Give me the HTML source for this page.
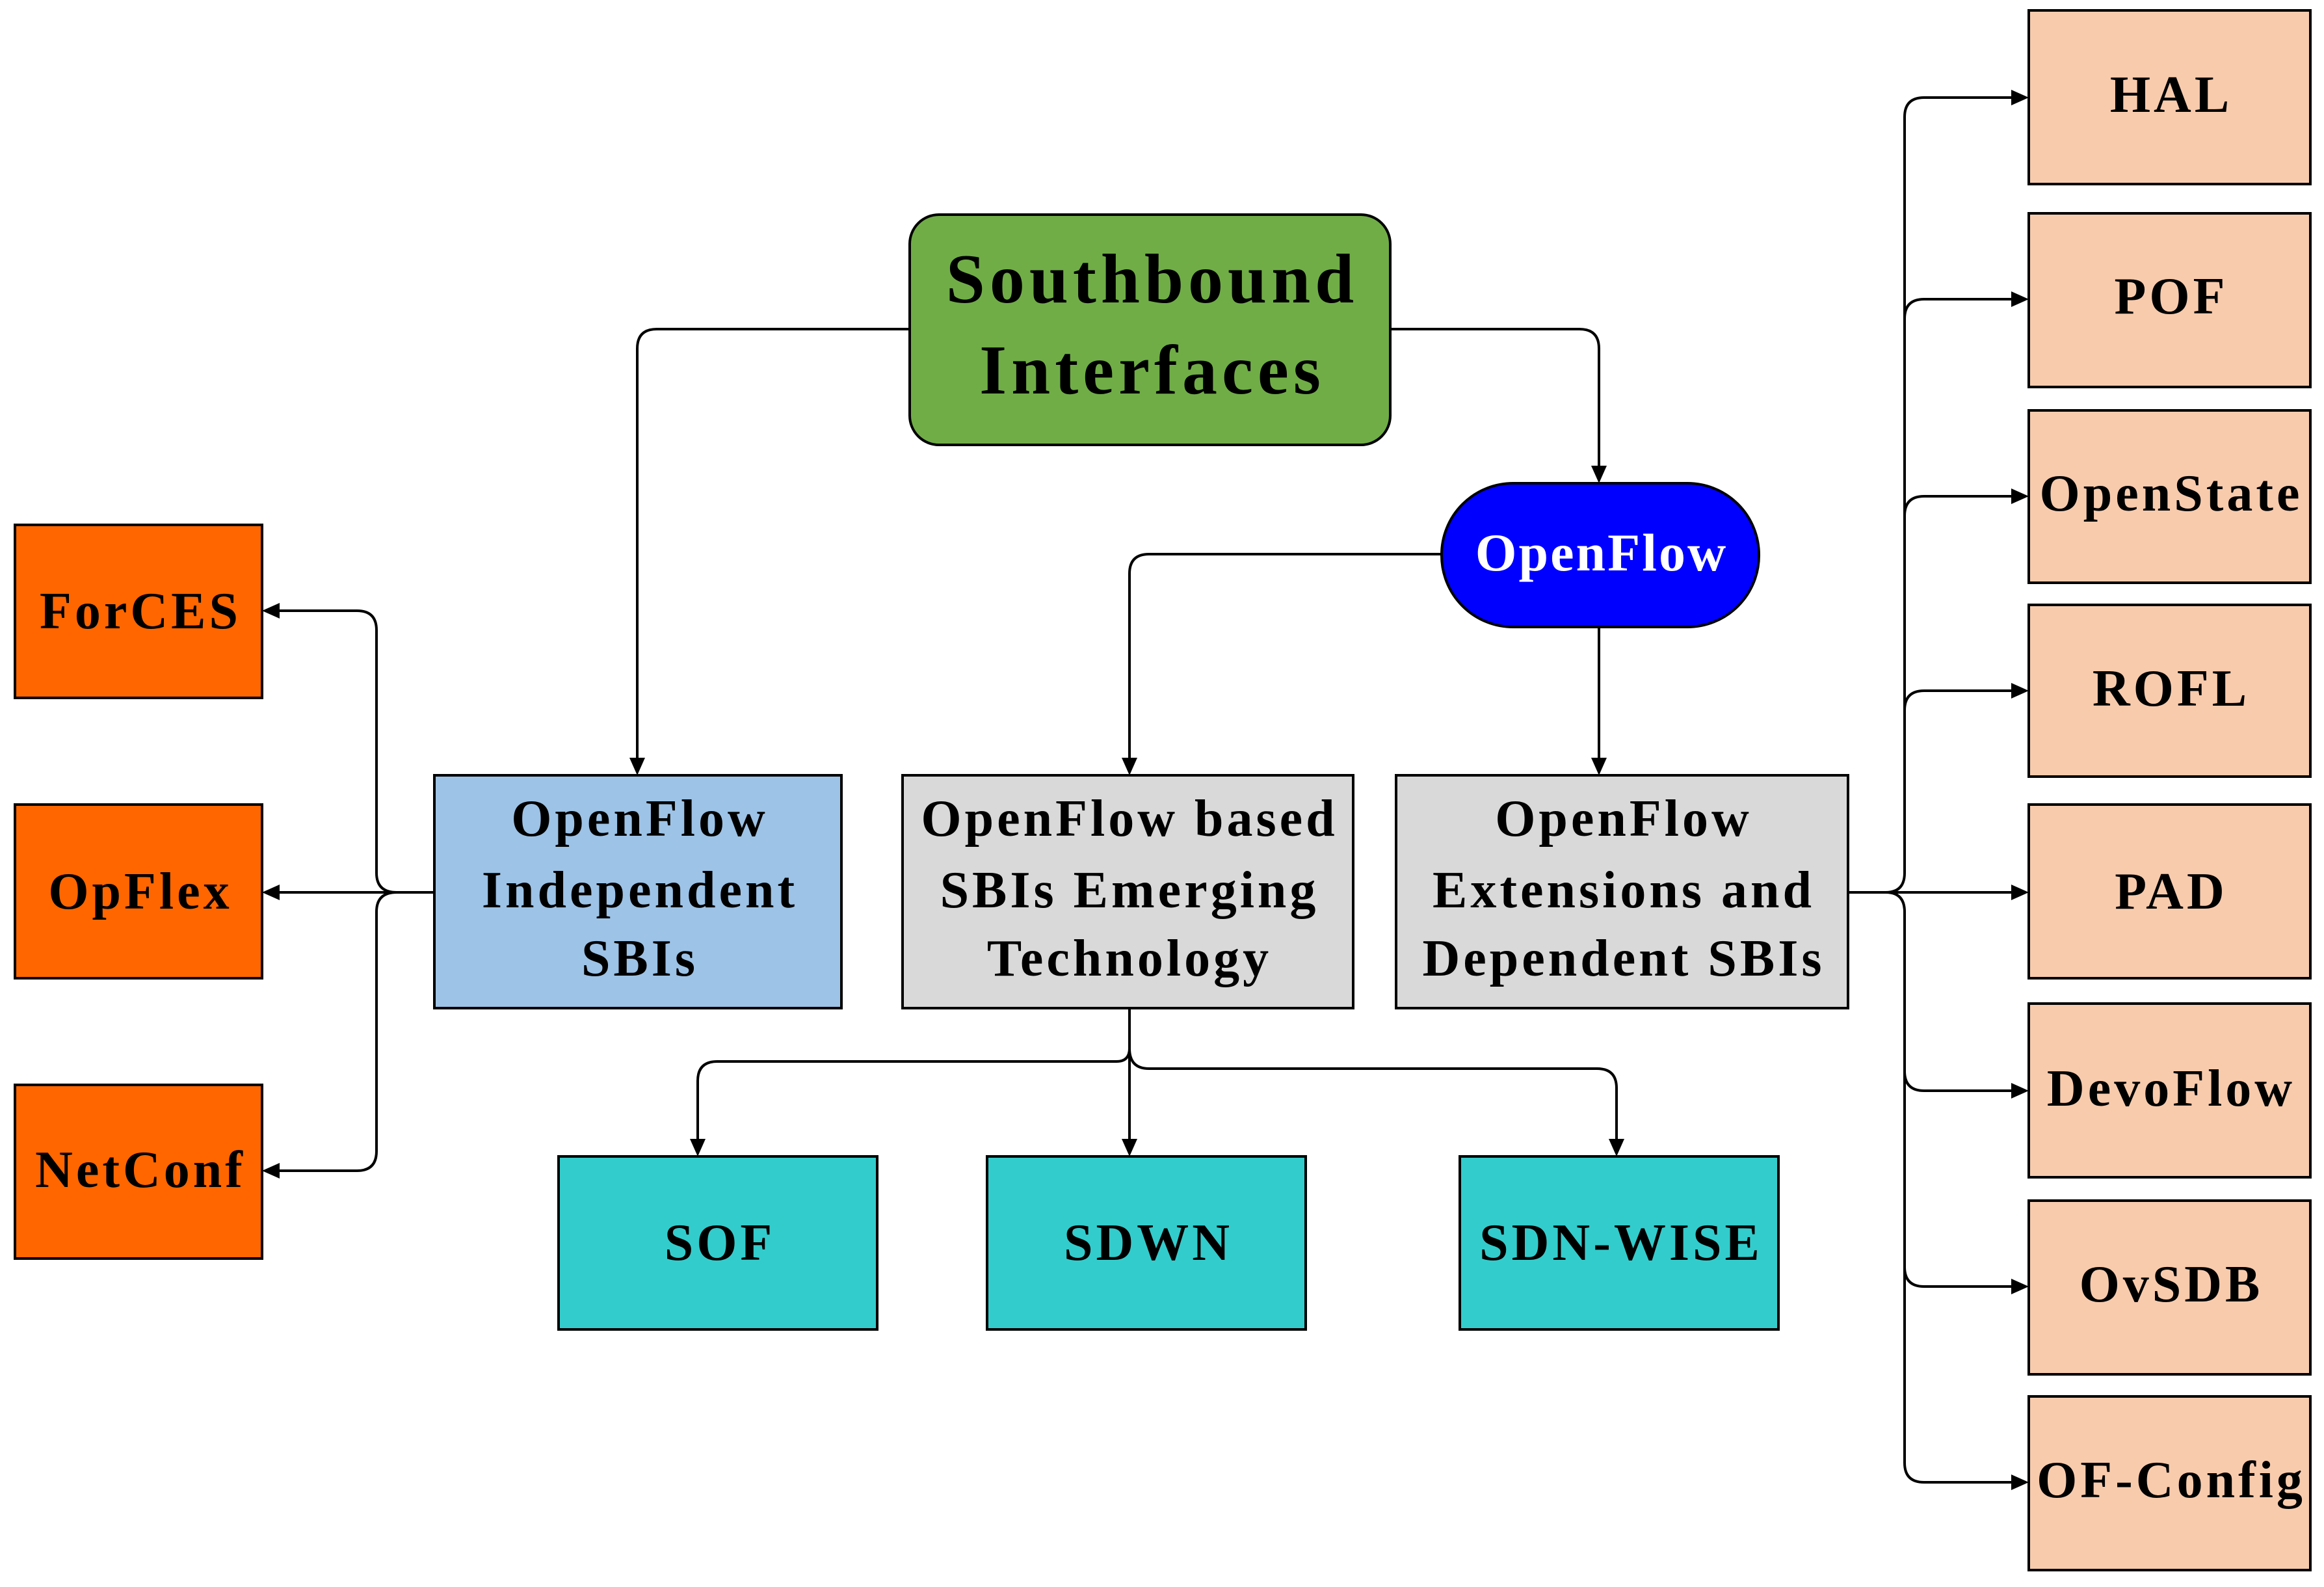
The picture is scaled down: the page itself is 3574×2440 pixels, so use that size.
<!DOCTYPE html>
<html><head><meta charset="utf-8"><style>
html,body{margin:0;padding:0;background:#fff;}
svg{display:block;}
text{font-family:"Liberation Serif",serif;font-weight:bold;text-anchor:middle;fill:#000;}
</style></head><body>
<svg width="3574" height="2440" viewBox="0 0 3574 2440" xmlns="http://www.w3.org/2000/svg">
<g stroke="#000" stroke-width="4" fill="none">
<path d="M1399 506 H1010 Q980 506 980 536 V1165"/>
<path d="M2138 506 H2429 Q2459 506 2459 536 V716"/>
<path d="M2217 852 H1767 Q1737 852 1737 882 V1165"/>
<path d="M2459 964 V1165"/>
<path d="M1737 1550 V1751"/>
<path d="M1737 1550 V1612 Q1737 1632 1717 1632 H1103 Q1073 1632 1073 1662 V1751"/>
<path d="M1737 1612 Q1737 1643 1767 1643 H2456 Q2486 1643 2486 1673 V1751"/>
<path d="M668 1372 H430"/>
<path d="M610 1372 Q579 1372 579 1342 V969 Q579 939 549 939 H430"/>
<path d="M610 1372 Q579 1372 579 1402 V1770 Q579 1800 549 1800 H430"/>
<path d="M2842 1372 H3093"/>
<path d="M2900 1372 Q2929 1372 2929 1342 V180 Q2929 150 2959 150 H3093"/>
<path d="M2900 1372 Q2929 1372 2929 1402 V2249 Q2929 2279 2959 2279 H3093"/>
<path d="M2929 490 Q2929 460 2959 460 H3093"/>
<path d="M2929 793 Q2929 763 2959 763 H3093"/>
<path d="M2929 1092 Q2929 1062 2959 1062 H3093"/>
<path d="M2929 1647 Q2929 1677 2959 1677 H3093"/>
<path d="M2929 1948 Q2929 1978 2959 1978 H3093"/>
</g>
<g fill="#000">
<polygon points="968,1165 992,1165 980,1192"/>
<polygon points="2447,716 2471,716 2459,743"/>
<polygon points="1725,1165 1749,1165 1737,1192"/>
<polygon points="2447,1165 2471,1165 2459,1192"/>
<polygon points="1061,1751 1085,1751 1073,1778"/>
<polygon points="1725,1751 1749,1751 1737,1778"/>
<polygon points="2474,1751 2498,1751 2486,1778"/>
<polygon points="430,927 430,951 403,939"/>
<polygon points="430,1360 430,1384 403,1372"/>
<polygon points="430,1788 430,1812 403,1800"/>
<polygon points="3093,138 3093,162 3120,150"/>
<polygon points="3093,448 3093,472 3120,460"/>
<polygon points="3093,751 3093,775 3120,763"/>
<polygon points="3093,1050 3093,1074 3120,1062"/>
<polygon points="3093,1360 3093,1384 3120,1372"/>
<polygon points="3093,1665 3093,1689 3120,1677"/>
<polygon points="3093,1966 3093,1990 3120,1978"/>
<polygon points="3093,2267 3093,2291 3120,2279"/>
</g>
<g stroke="#000" stroke-width="4">
<rect x="1399" y="330" width="739" height="354" rx="45" fill="#70ad47"/>
<rect x="2217" y="743" width="488" height="221" rx="110" fill="#0000ff"/>
<rect x="668" y="1192" width="626" height="358" fill="#9dc3e6"/>
<rect x="1388" y="1192" width="693" height="358" fill="#d9d9d9"/>
<rect x="2147" y="1192" width="695" height="358" fill="#d9d9d9"/>
<rect x="859" y="1778" width="490" height="266" fill="#33cccc"/>
<rect x="1518" y="1778" width="490" height="266" fill="#33cccc"/>
<rect x="2245" y="1778" width="490" height="266" fill="#33cccc"/>
<rect x="23" y="807" width="380" height="266" fill="#ff6600"/>
<rect x="23" y="1237" width="380" height="267" fill="#ff6600"/>
<rect x="23" y="1668" width="380" height="267" fill="#ff6600"/>
<rect x="3120" y="16" width="433" height="267" fill="#f8cbad"/>
<rect x="3120" y="328" width="433" height="267" fill="#f8cbad"/>
<rect x="3120" y="631" width="433" height="265" fill="#f8cbad"/>
<rect x="3120" y="930" width="433" height="264" fill="#f8cbad"/>
<rect x="3120" y="1237" width="433" height="267" fill="#f8cbad"/>
<rect x="3120" y="1543" width="433" height="267" fill="#f8cbad"/>
<rect x="3120" y="1846" width="433" height="267" fill="#f8cbad"/>
<rect x="3120" y="2147" width="433" height="267" fill="#f8cbad"/>
</g>
<g font-size="108" letter-spacing="7">
<text x="1772" y="465">Southbound</text>
<text x="1772" y="605">Interfaces</text>
</g>
<text x="2463" y="877" font-size="82" letter-spacing="3" style="fill:#fff">OpenFlow</text>
<g font-size="80" letter-spacing="5">
<text x="984" y="1285">OpenFlow</text>
<text x="984" y="1395">Independent</text>
<text x="984" y="1500">SBIs</text>
<text x="1737" y="1285">OpenFlow based</text>
<text x="1737" y="1395">SBIs Emerging</text>
<text x="1737" y="1500">Technology</text>
<text x="2497" y="1285">OpenFlow</text>
<text x="2497" y="1395">Extensions and</text>
<text x="2497" y="1500">Dependent SBIs</text>
<text x="1107" y="1937">SOF</text>
<text x="1766" y="1937">SDWN</text>
<text x="2493" y="1937">SDN-WISE</text>
<text x="216" y="966">ForCES</text>
<text x="216" y="1397">OpFlex</text>
<text x="216" y="1825">NetConf</text>
<text x="3339" y="172">HAL</text>
<text x="3339" y="482">POF</text>
<text x="3339" y="785">OpenState</text>
<text x="3339" y="1085">ROFL</text>
<text x="3339" y="1397">PAD</text>
<text x="3339" y="1700">DevoFlow</text>
<text x="3339" y="2001">OvSDB</text>
<text x="3339" y="2302">OF-Config</text>
</g>
</svg>
</body></html>
